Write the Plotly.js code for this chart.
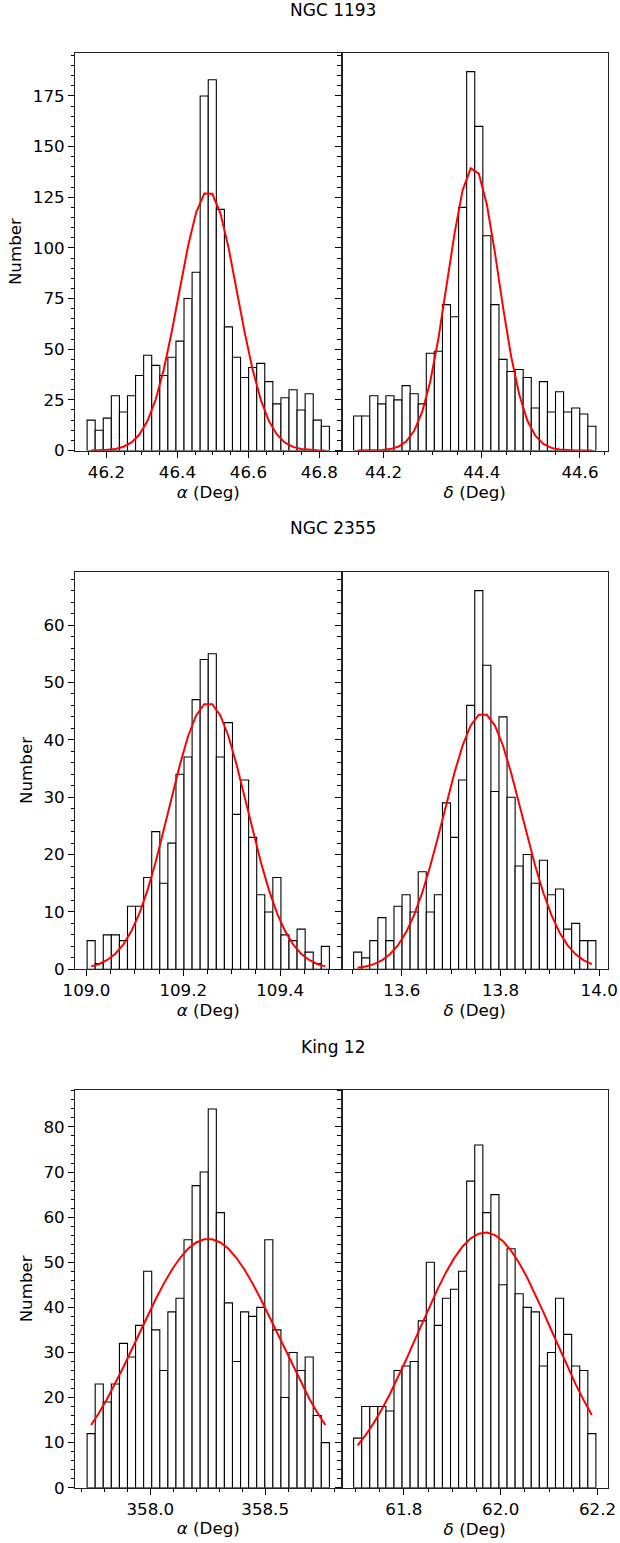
<!DOCTYPE html>
<html><head><meta charset="utf-8">
<script src="https://cdn.plot.ly/plotly-3.0.1.min.js"></script>
<style>html,body{margin:0;padding:0;background:#fff}#chart{width:620px;height:1543px}</style>
</head><body><div id="chart"></div><script>
// ---- data ----
const clusterNames = ['NGC 1193', 'NGC 2355', 'King 12'];

const n1193RABinStart = 46.1456, n1193RABinWidth = 0.02275;
const n1193RACounts = [15,10,16,27,19,27,37,47,42,37,46,54,75,88,175,183,119,61,46,36,41,43,34,23,26,30,20,28,15,12];
const n1193RAFit = [0.04,0.12,0.32,0.79,1.85,4.0,8.0,14.8,25.3,40.1,59.0,80.1,100.9,117.5,126.8,126.7,117.2,100.4,79.6,58.5,39.8,25.1,14.6,7.9,3.9,1.8,0.78,0.31,0.11,0.04];

const n1193DecBinStart = 44.1392, n1193DecBinWidth = 0.016441;
const n1193DecCounts = [17,17,27,23,27,25,32,28,23,48,49,72,66,120,187,160,106,72,45,39,40,36,21,34,19,29,19,21,18,12];
const n1193DecFit = [0.005,0.02,0.07,0.23,0.69,1.84,4.4,9.7,19.2,34.2,55.3,81.0,107.2,128.5,139.3,136.7,121.4,97.6,70.8,46.6,27.8,14.9,7.3,3.2,1.28,0.46,0.15,0.05,0.01,0.003];

const n2355RABinStart = 109.0014, n2355RABinWidth = 0.016677;
const n2355RACounts = [5,1,6,6,5,11,11,16,24,15,22,34,37,47,54,55,37,43,27,33,23,13,10,16,6,5,7,3,1,4];
const n2355RAFit = [0.51,0.93,1.62,2.72,4.36,6.70,9.85,13.89,18.76,24.27,30.08,35.71,40.62,44.26,46.2,46.2,44.26,40.62,35.71,30.08,24.27,18.76,13.89,9.85,6.70,4.36,2.72,1.62,0.93,0.51];

const n2355DecBinStart = 13.5022, n2355DecBinWidth = 0.01637;
const n2355DecCounts = [3,2,5,9,5,11,13,10,17,10,13,29,23,33,46,66,53,31,44,30,18,20,15,19,13,14,7,8,5,5];
const n2355DecFit = [0.26,0.49,0.90,1.56,2.62,4.19,6.44,9.48,13.35,18.04,23.33,28.91,34.32,39.03,42.51,44.37,44.35,42.48,38.97,34.26,28.83,23.26,17.97,13.30,9.43,6.41,4.17,2.60,1.55,0.89];

const king12RABinStart = 357.7246, king12RABinWidth = 0.03517;
const king12RACounts = [12,23,19,23,32,29,36,48,35,26,39,42,55,67,70,84,61,41,28,39,38,40,55,35,20,30,26,29,16,10];
const king12RAFit = [13.89,16.69,19.80,23.18,26.78,30.53,34.36,38.16,41.84,45.26,48.33,50.94,52.98,54.39,55.11,55.11,54.39,52.98,50.94,48.33,45.26,41.84,38.16,34.36,30.53,26.78,23.18,19.80,16.69,13.89];

const king12DecBinStart = 61.6962, king12DecBinWidth = 0.01668;
const king12DecCounts = [11,18,18,18,17,26,27,28,37,50,36,42,44,48,68,76,61,65,45,53,43,40,39,27,30,42,34,27,26,12];
const king12DecFit = [9.39,11.70,14.38,17.41,20.79,24.46,28.37,32.43,36.54,40.59,44.44,47.97,51.02,53.51,55.30,56.34,56.58,56.01,54.65,52.56,49.83,46.57,42.90,38.95,34.86,30.75,26.74,22.92,19.36,16.13];

const xTitles = ['<i>α</i> (Deg)', '<i>δ</i> (Deg)'];
const yLabel = 'Number';

// ---- layout configuration ----
const W = 620, H = 1543;
const colPx = [[75, 341.5], [341.5, 608]];
const rowPx = [[52.7, 450.5], [571.7, 969.3], [1090, 1487.7]];
const titleY = [9.6, 528, 1047];
const titleX = 333;

const panels = [
  { name: clusterNames[0], yDtick: 25, yMinor: 5,
    ra: {start: n1193RABinStart, w: n1193RABinWidth, counts: n1193RACounts, fit: n1193RAFit, tick0: 46.2, dtick: 0.2, minor: 0.05},
    dec:{start: n1193DecBinStart, w: n1193DecBinWidth, counts: n1193DecCounts, fit: n1193DecFit, tick0: 44.2, dtick: 0.2, minor: 0.05}},
  { name: clusterNames[1], yDtick: 10, yMinor: 2,
    ra: {start: n2355RABinStart, w: n2355RABinWidth, counts: n2355RACounts, fit: n2355RAFit, tick0: 109.0, dtick: 0.2, minor: 0.05},
    dec:{start: n2355DecBinStart, w: n2355DecBinWidth, counts: n2355DecCounts, fit: n2355DecFit, tick0: 13.6, dtick: 0.2, minor: 0.05}},
  { name: clusterNames[2], yDtick: 10, yMinor: 2,
    ra: {start: king12RABinStart, w: king12RABinWidth, counts: king12RACounts, fit: king12RAFit, tick0: 358.0, dtick: 0.5, minor: 0.1},
    dec:{start: king12DecBinStart, w: king12DecBinWidth, counts: king12DecCounts, fit: king12DecFit, tick0: 61.8, dtick: 0.2, minor: 0.05}}
];

const FS = 16.7;
const data = [];
const layout = {
  width: W, height: H,
  margin: {l: 0, r: 0, t: 0, b: 0, pad: 0},
  paper_bgcolor: '#fff', plot_bgcolor: '#fff',
  font: {family: 'DejaVu Sans, sans-serif', size: FS, color: '#000'},
  showlegend: false,
  barmode: 'overlay',
  annotations: []
};

let axN = 0;
panels.forEach((p, r) => {
  const yDom = [1 - rowPx[r][1] / H, 1 - rowPx[r][0] / H];
  const ymax = 1.05 * Math.max(...p.ra.counts, ...p.dec.counts);
  let firstY = null;
  [p.ra, p.dec].forEach((s, c) => {
    axN++;
    const xk = axN === 1 ? 'xaxis' : 'xaxis' + axN;
    const yk = axN === 1 ? 'yaxis' : 'yaxis' + axN;
    const xr = axN === 1 ? 'x' : 'x' + axN;
    const yr = axN === 1 ? 'y' : 'y' + axN;
    if (c === 0) firstY = yr;
    const centers = s.counts.map((_, i) => s.start + (i + 0.5) * s.w);
    const lo = s.start, hi = s.start + s.counts.length * s.w, m = 0.05 * (hi - lo);
    data.push({type: 'bar', x: centers, y: s.counts, width: s.w, xaxis: xr, yaxis: yr,
      marker: {color: '#ffffff', line: {color: '#000', width: 1.1}}, hoverinfo: 'skip'});
    data.push({type: 'scatter', mode: 'lines', x: centers, y: s.fit, xaxis: xr, yaxis: yr,
      line: {color: '#ff0000', width: 2}, hoverinfo: 'skip'});
    layout[xk] = {
      domain: [colPx[c][0] / W, colPx[c][1] / W], anchor: yr,
      range: [lo - m, hi + m], tickmode: 'linear', tick0: s.tick0, dtick: s.dtick, tickformat: '.1f',
      ticks: 'outside', ticklen: 6, tickwidth: 1, tickcolor: '#000',
      showline: true, linecolor: '#222', linewidth: 1, mirror: true,
      showgrid: false, zeroline: false,
      minor: {tick0: s.tick0, dtick: s.minor, ticks: 'outside', ticklen: 3.5, tickwidth: 1, tickcolor: '#000', showgrid: false},
      tickfont: {size: FS, color: '#000'},
      title: {text: xTitles[c], font: {size: FS, color: '#000'}, standoff: 4}
    };
    layout[yk] = {
      domain: yDom, anchor: xr,
      range: [0, ymax], tickmode: 'linear', tick0: 0, dtick: p.yDtick,
      ticks: 'outside', ticklen: 6, tickwidth: 1, tickcolor: '#000',
      showline: true, linecolor: '#222', linewidth: 1, mirror: true,
      showgrid: false, zeroline: false,
      showticklabels: c === 0,
      minor: {tick0: 0, dtick: p.yMinor, ticks: 'outside', ticklen: 3.5, tickwidth: 1, tickcolor: '#000', showgrid: false},
      tickfont: {size: FS, color: '#000'},
      title: c === 0 ? {text: yLabel, font: {size: FS, color: '#000'}, standoff: 6} : {text: ''}
    };
    if (c === 1) layout[yk].matches = firstY;
  });
  layout.annotations.push({text: p.name, xref: 'paper', yref: 'paper', x: titleX / W, y: 1 - titleY[r] / H,
    xanchor: 'center', yanchor: 'middle', showarrow: false, font: {size: 17, color: '#000'}});
});

Plotly.newPlot('chart', data, layout, {staticPlot: true, displayModeBar: false});
</script></body></html>
